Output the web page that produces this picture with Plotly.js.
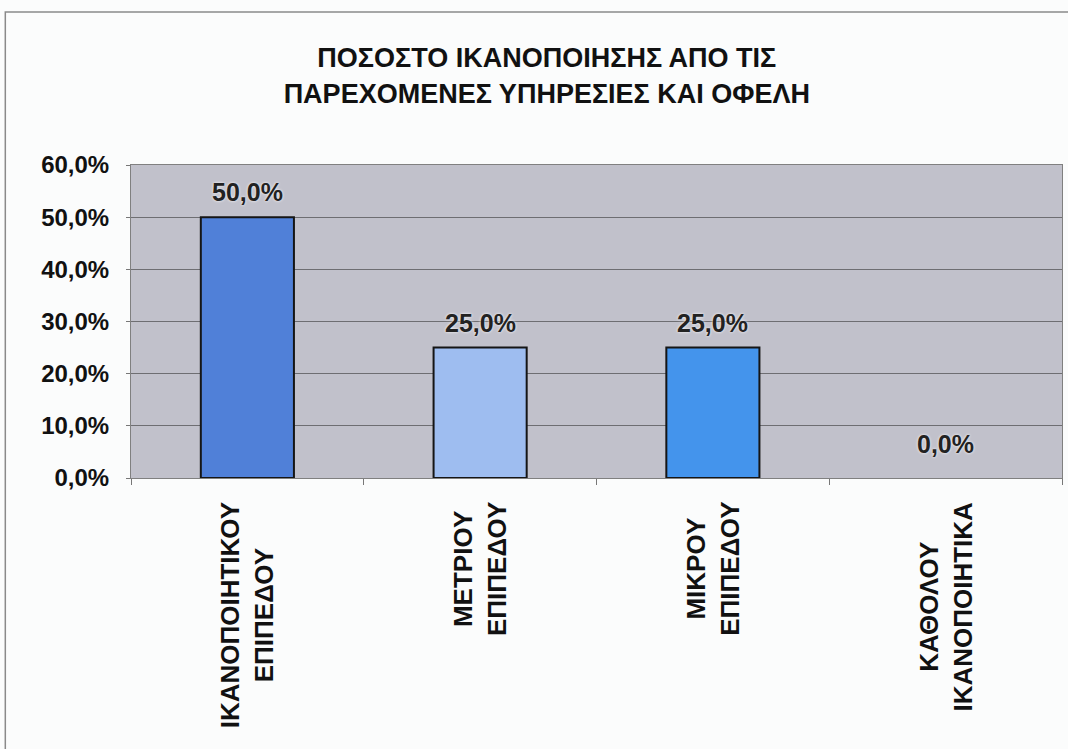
<!DOCTYPE html>
<html><head><meta charset="utf-8">
<script src="https://cdn.plot.ly/plotly-3.0.1.min.js"></script>
<style>html,body{margin:0;padding:0;background:#fbfcfc;}#chart{width:1068px;height:749px;}</style>
</head><body><div id="chart"></div>
<script>
const categories = ["ΙΚΑΝΟΠΟΙΗΤΙΚΟΥ ΕΠΙΠΕΔΟΥ", "ΜΕΤΡΙΟΥ ΕΠΙΠΕΔΟΥ", "ΜΙΚΡΟΥ ΕΠΙΠΕΔΟΥ", "ΚΑΘΟΛΟΥ ΙΚΑΝΟΠΟΙΗΤΙΚΑ"];
const labelLines = [["ΙΚΑΝΟΠΟΙΗΤΙΚΟΥ", "ΕΠΙΠΕΔΟΥ"], ["ΜΕΤΡΙΟΥ", "ΕΠΙΠΕΔΟΥ"], ["ΜΙΚΡΟΥ", "ΕΠΙΠΕΔΟΥ"], ["ΚΑΘΟΛΟΥ", "ΙΚΑΝΟΠΟΙΗΤΙΚΑ"]];
const values = [0.50, 0.25, 0.25, 0.0];
const valueLabels = ["50,0%", "25,0%", "25,0%", "0,0%"];
const barColors = ["#5080d8", "#9ebdf0", "#4494ec", "#5080d8"];
const titleText = "ΠΟΣΟΣΤΟ ΙΚΑΝΟΠΟΙΗΣΗΣ ΑΠΟ ΤΙΣ<br>ΠΑΡΕΧΟΜΕΝΕΣ ΥΠΗΡΕΣΙΕΣ ΚΑΙ ΟΦΕΛΗ";

const boldFont = "Liberation Sans, Arial, sans-serif";

const trace = {
  type: "bar",
  x: categories,
  y: values,
  marker: {color: barColors, line: {color: "#151515", width: values.map(v => v > 0 ? 2 : 0)}},
  hoverinfo: "none"
};

const catAnnotations = categories.map((c, i) => ({
  x: c, xref: "x", y: -0.07, yref: "paper",
  text: labelLines[i].join("<br>"),
  textangle: -90, xanchor: "center", yanchor: "top", align: "center",
  showarrow: false,
  font: {family: boldFont, size: 26, color: "#111", weight: 700}
}));

const valAnnotations = categories.map((c, i) => ({
  x: c, xref: "x", y: values[i], yref: "y",
  text: valueLabels[i],
  xanchor: "center", yanchor: "bottom", yshift: values[i] > 0 ? 9 : 18,
  showarrow: false,
  font: {family: boldFont, size: 25, color: "#222", weight: 700, shadow: "0px 0px 3px #ffffff"}
}));

const layout = {
  width: 1068, height: 749,
  margin: {l: 131, r: 6, t: 165, b: 271},
  paper_bgcolor: "#fbfcfc",
  plot_bgcolor: "#c1c1cb",
  separators: ",.",
  showlegend: false,
  bargap: 0.6,
  title: {
    text: titleText,
    x: 0.512, xanchor: "center", y: 0.91, yanchor: "middle",
    font: {family: "Liberation Sans Narrow, Arial Narrow, Liberation Sans, sans-serif", size: 27, color: "#111", weight: 700}
  },
  xaxis: {
    type: "category",
    showticklabels: false,
    ticks: "outside", ticklen: 6, tickcolor: "#777", tickson: "boundaries",
    showline: true, linecolor: "#808080", linewidth: 1, mirror: true,
    showgrid: false, fixedrange: true
  },
  yaxis: {
    range: [0, 0.6], dtick: 0.1, tickformat: ".1%",
    tickfont: {family: boldFont, size: 24, color: "#111", weight: 700},
    ticks: "outside", ticklen: 4, tickcolor: "#777",
    showgrid: true, gridcolor: "#6e6e72", gridwidth: 1,
    showline: true, linecolor: "#808080", linewidth: 1, mirror: true,
    zeroline: false, fixedrange: true, ticklabelstandoff: 12
  },
  annotations: catAnnotations.concat(valAnnotations),
  shapes: [
    {type: "rect", xref: "paper", yref: "paper", x0: -0.135, x1: 1.2, y0: -1.0, y1: 1.489,
     line: {color: "#8a8a8a", width: 1.5}, fillcolor: "rgba(0,0,0,0)", layer: "below"}
  ]
};

Plotly.newPlot("chart", [trace], layout, {displayModeBar: false, staticPlot: true});
</script>
</body></html>
